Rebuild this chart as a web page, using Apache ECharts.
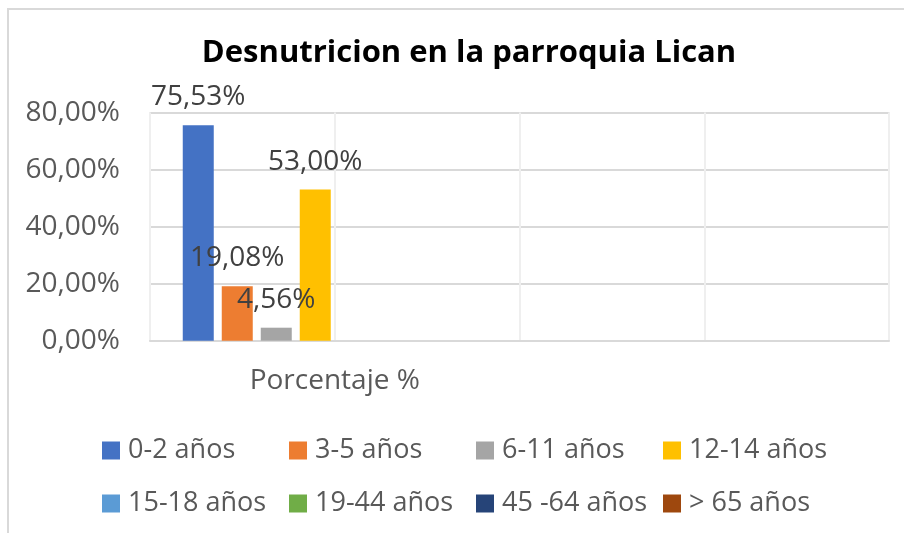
<!DOCTYPE html>
<html>
<head>
<meta charset="utf-8">
<script src="https://cdn.jsdelivr.net/npm/echarts@6/dist/echarts.min.js"></script>
<style>
  html, body { margin: 0; padding: 0; background: #ffffff; }
  #chart { width: 904px; height: 533px; }
</style>
</head>
<body>
<div id="chart"></div>
<script>
// Malnutrition share by age group in the Lican parish
const categories = ['Porcentaje %', ''];
const ageGroups = ['0-2 años', '3-5 años', '6-11 años', '12-14 años',
                   '15-18 años', '19-44 años', '45 -64 años', '> 65 años'];
// percentage per age group (first category only)
const values = [75.53, 19.08, 4.56, 53.00, null, null, null, null];
const colors = ['#4472C4', '#ED7D31', '#A5A5A5', '#FFC000',
                '#5B9BD5', '#70AD47', '#264478', '#9E480E'];
const yTicks = { min: 0, max: 80, interval: 20 };

const FONT = '"Open Sans", "DejaVu Sans", sans-serif';
const TEXT = '#595959';
const GRID = '#d9d9d9';

const pct = v => v.toFixed(2).replace('.', ',') + '%';

const series = ageGroups.map((name, i) => ({
  name: name,
  type: 'bar',
  xAxisIndex: 0,
  barWidth: 31,
  barGap: '25.8%',
  itemStyle: { color: colors[i] },
  data: [values[i], null],
  label: {
    show: values[i] != null,
    position: 'top',
    distance: 14,
    fontFamily: FONT,
    fontSize: 28,
    color: '#404040',
    formatter: p => pct(p.value)
  },
  z: 3
}));

// legend laid out as a 4 x 2 grid of fixed columns
const colX = [102, 289, 476, 663];
const rowY = [437, 490];
const legends = ageGroups.map((name, i) => ({
  data: [name],
  left: colX[i % 4],
  top: rowY[Math.floor(i / 4)],
  padding: 0,
  icon: 'rect',
  itemWidth: 18,
  itemHeight: 18,
  selectedMode: false,
  textStyle: { fontFamily: FONT, fontSize: 27, color: TEXT, padding: [0, 0, 0, 3] }
}));

const chart = echarts.init(document.getElementById('chart'), null, { renderer: 'canvas' });
chart.setOption({
  animation: false,
  backgroundColor: '#ffffff',
  color: colors,
  title: {
    text: 'Desnutricion en la parroquia Lican',
    left: 464,
    top: 33,
    textAlign: 'center',
    textStyle: { fontFamily: FONT, fontSize: 31, fontWeight: 'bold', color: '#000000' }
  },
  graphic: [{
    type: 'rect',
    shape: { x: 8, y: 9, width: 1000, height: 1000 },
    style: { fill: 'none', stroke: GRID, lineWidth: 2 },
    silent: true,
    z: -10
  }],
  legend: legends,
  grid: { left: 150, right: 15, top: 112.6, bottom: 192.3, containLabel: false },
  xAxis: [{
    type: 'category',
    data: categories,
    axisLine: { show: true, lineStyle: { color: GRID, width: 2 } },
    axisTick: { show: false },
    axisLabel: { fontFamily: FONT, fontSize: 28, color: TEXT, margin: 26 },
    splitLine: { show: true, lineStyle: { color: GRID, width: 2 } }
  }, {
    // lighter half-category dividers
    type: 'category',
    data: ['', '', '', ''],
    position: 'bottom',
    axisLine: { show: false },
    axisTick: { show: false },
    axisLabel: { show: false },
    splitLine: { show: true, lineStyle: { color: '#efefef', width: 2 } }
  }],
  yAxis: {
    type: 'value',
    min: yTicks.min,
    max: yTicks.max,
    interval: yTicks.interval,
    axisLine: { show: false },
    axisTick: { show: false },
    axisLabel: { fontFamily: FONT, fontSize: 28, color: TEXT, margin: 30, formatter: v => pct(v) },
    splitLine: { show: true, lineStyle: { color: GRID, width: 2 } }
  },
  series: series
});
</script>
</body>
</html>
